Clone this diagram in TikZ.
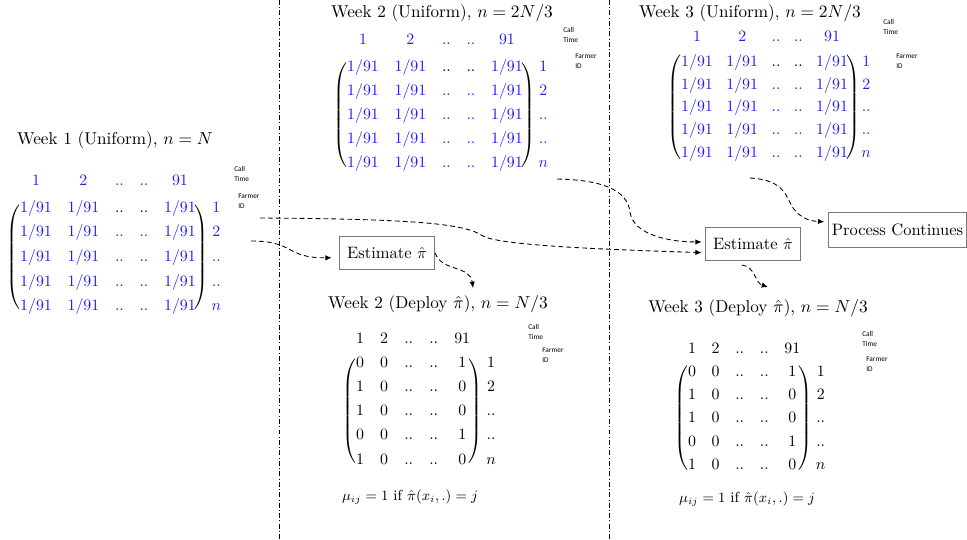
\documentclass[tikz,border=0pt]{standalone}
\usepackage{amsmath,amssymb}
\usepackage{fontspec}
\newfontfamily\notefont{Carlito}
\usepackage{tikz}
\usetikzlibrary{arrows.meta,matrix,fit,positioning,calc}
\usepackage{xcolor}
\definecolor{EntBlue}{RGB}{30, 30, 245}
\definecolor{BoxGray}{RGB}{120,120,120}

\begin{document}
\begin{tikzpicture}[x=0.63pt,y=-0.63pt,
    umat/.style={matrix of math nodes,ampersand replacement=\&,
      nodes={inner sep=0pt,text height=1.5ex,text depth=.25ex,text=EntBlue}},
    dmat/.style={matrix of math nodes,ampersand replacement=\&,
      nodes={inner sep=0pt,text height=1.5ex,text depth=.25ex}},
    paren/.style={inner sep=0pt,left delimiter={(},right delimiter={)}},
    every left delimiter/.style={xshift=2pt},
    every right delimiter/.style={xshift=-2.5pt},
    ttl/.style={inner sep=1pt,font=\fontsize{10.8}{13}\selectfont},
    rule/.style={font=\fontsize{9.2}{11}\selectfont},
    idnote/.style={font=\notefont\fontsize{4.6}{6}\selectfont,align=left,anchor=west,inner sep=0pt},
    estbox/.style={draw=BoxGray,line width=.6pt,minimum width=60pt,minimum height=21pt,inner sep=2pt,
      font=\fontsize{10.4}{12}\selectfont},
    flow/.style={-{Latex[length=4pt,width=3.4pt]},densely dashed,line width=.55pt},
    weekline/.style={dash pattern=on 3pt off 1.5pt on .6pt off 1.5pt,line width=.5pt}]
  \useasboundingbox (0,0) rectangle (967,540);

  % week separators
  \foreach \x in {279,609}
    \draw[weekline] (\x,0) -- (\x,540);

  % titles
  \node[ttl] (ta) at (115,140) {Week 1 (Uniform), $n=N$};
  \node[ttl] (tb) at (442,13) {Week 2 (Uniform), $n=2N/3$};
  \node[ttl] (tc) at (750,13) {Week 3 (Uniform), $n=2N/3$};
  \node[ttl] (td) at (438,304) {Week 2 (Deploy $\hat{\pi}$), $n=N/3$};
  \node[ttl] (te) at (758,308) {Week 3 (Deploy $\hat{\pi}$), $n=N/3$};

  % uniform matrices
  \foreach \m/\x/\y/\cs/\rs in {wa/36/208/9.9pt/8.0pt, wb/363/67/9.9pt/7.6pt, wc/697/62/8.5pt/6.8pt}{
    \matrix (\m) [umat,column sep=\cs,row sep=\rs,matrix anchor=\m-2-1.center] at (\x,\y) {
      1 \& 2 \& .. \& .. \& 91 \& \\[1.5pt]
      1/91 \& 1/91 \& |[text=black]| .. \& |[text=black]| .. \& 1/91 \& 1 \\
      1/91 \& 1/91 \& .. \& .. \& 1/91 \& 2 \\
      1/91 \& 1/91 \& .. \& .. \& 1/91 \& .. \\
      1/91 \& 1/91 \& .. \& .. \& 1/91 \& .. \\
      1/91 \& 1/91 \& .. \& .. \& 1/91 \& n \\
    };
    \node[paren,fit=(\m-2-1)(\m-6-5)(\m-1-5.east |- \m-6-5)] (\m p) {};
  }

  % deploy matrices
  \foreach \m/\x/\y/\cs/\rs in {da/360/363/10.2pt/7.7pt, db/692/372/9.9pt/7.1pt}{
    \matrix (\m) [dmat,column sep=\cs,row sep=\rs,matrix anchor=\m-2-1.center] at (\x,\y) {
      1 \& 2 \& .. \& .. \& 91 \& \\
      0 \& 0 \& .. \& .. \& 1 \& 1 \\
      1 \& 0 \& .. \& .. \& 0 \& 2 \\
      1 \& 0 \& .. \& .. \& 0 \& .. \\
      0 \& 0 \& .. \& .. \& 1 \& .. \\
      1 \& 0 \& .. \& .. \& 0 \& n \\
    };
    \node[paren,fit=(\m-2-1)(\m-6-5)(\m-1-5.east |- \m-6-5)] (\m p) {};
  }

  % axis notes
  \foreach \n/\x/\y/\t in {
    cwa/234/174/{Call\\Time}, fwa/238/201/{Farmer\\ID},
    cwb/563/35/{Call\\Time},  fwb/575/61/{Farmer\\ID},
    cwc/883/27/{Call\\Time},  fwc/896/61/{Farmer\\ID},
    cda/528/332/{Call\\Time}, fda/542/355/{Farmer\\ID},
    cdb/862/339/{Call\\Time}, fdb/866/364/{Farmer\\ID}}
    \node[idnote] (\n) at (\x,\y) {\t};

  % rules
  \node[rule] (ma) at (410,497) {$\mu_{ij}=1 \text{ if } \hat{\pi}(x_i,.)=j$};
  \node[rule] (mb) at (747,499) {$\mu_{ij}=1 \text{ if } \hat{\pi}(x_i,.)=j$};

  % estimation steps
  \node[estbox] (e1) at (387,253) {Estimate $\hat{\pi}$};
  \node[estbox] (e2) at (753,244) {Estimate $\hat{\pi}$};
  \node[estbox,minimum width=86pt,minimum height=22pt] (pc) at (897.5,230) {Process Continues};

  % flows
  \coordinate (a1s) at (251,241);
  \coordinate (a2s) at (260,218);
  \coordinate (a3s) at (557,179);
  \coordinate (a4e) at (473,288);
  \coordinate (a5e) at (768,287);
  \coordinate (a6s) at (750,178);
  \draw[flow,shorten >=4.5pt] (a1s) .. controls (295,241) and (285,258) .. ([yshift=-3pt]e1.west);
  \draw[flow,shorten >=2pt] (a2s) .. controls (420,219) and (465,224) .. (483,236)
    .. controls (500,246) and (620,250) .. ([yshift=-5.5pt]e2.west);
  \draw[flow,shorten >=2pt] (a3s) .. controls (612,180) and (628,195) .. (630,212)
    .. controls (633,235) and (670,242) .. ([yshift=1.3pt]e2.west);
  \draw[flow] (e1.east) .. controls (442,272) and (470,265) .. (a4e);
  \draw[flow] ([xshift=-7pt,yshift=-2.5pt]e2.south) .. controls (755,266) and (755,283) .. (a5e);
  \draw[flow,shorten >=2.5pt] (a6s) .. controls (785,180) and (786,197) .. (793,208)
    .. controls (802,220) and (812,221) .. ([yshift=5pt]pc.west);
\end{tikzpicture}
\end{document}
